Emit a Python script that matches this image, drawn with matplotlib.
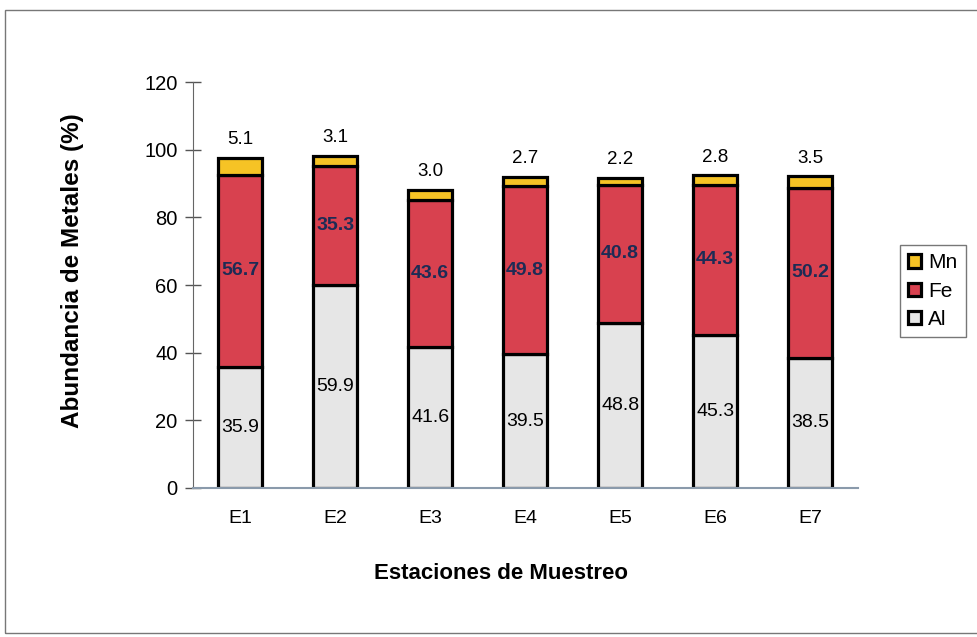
import matplotlib
matplotlib.use("Agg")
import matplotlib.pyplot as plt
from matplotlib.patches import Rectangle
import numpy as np

plt.rcParams['font.family'] = ['Liberation Sans', 'DejaVu Sans']

estaciones = ["E1", "E2", "E3", "E4", "E5", "E6", "E7"]
al = [35.9, 59.9, 41.6, 39.5, 48.8, 45.3, 38.5]
fe = [56.7, 35.3, 43.6, 49.8, 40.8, 44.3, 50.2]
mn = [5.1, 3.1, 3.0, 2.7, 2.2, 2.8, 3.5]

c_al = "#e6e6e6"
c_fe = "#d8414f"
c_mn = "#f6c325"

fig = plt.figure(figsize=(9.78, 6.37), dpi=100)
ax = fig.add_axes([0.197, 0.234, 0.68, 0.637])

x = np.arange(len(estaciones))
al = np.array(al)
fe = np.array(fe)
mn = np.array(mn)
w = 0.46
b_al = ax.bar(x, al, w, color=c_al, edgecolor="black", linewidth=2.3, label="Al")
b_fe = ax.bar(x, fe, w, bottom=al, color=c_fe, edgecolor="black", linewidth=2.3, label="Fe")
b_mn = ax.bar(x, mn, w, bottom=al + fe, color=c_mn, edgecolor="black", linewidth=2.3, label="Mn")

# etiquetas de valores
for i in range(len(x)):
    ax.text(x[i], al[i] / 2, f"{al[i]:.1f}", ha="center", va="center", fontsize=14)
    ax.text(x[i], al[i] + fe[i] / 2, f"{fe[i]:.1f}", ha="center", va="center",
            fontsize=14, fontweight="bold", color="#1d2b55")
    ax.text(x[i], al[i] + fe[i] + mn[i] + 2.8, f"{mn[i]:.1f}", ha="center", va="bottom",
            fontsize=13.5)

ax.set_xlim(-0.5, len(x) - 0.5)
ax.set_ylim(0, 120)
ax.set_yticks(np.arange(0, 121, 20))
ax.set_xticks(x)
ax.set_xticklabels(estaciones)
ax.tick_params(axis="y", direction="inout", length=12, width=1, color="#555555",
               labelsize=14.5, pad=5)
ax.tick_params(axis="x", length=0, labelsize=14, pad=16)

for s in ["top", "right"]:
    ax.spines[s].set_visible(False)
ax.spines["left"].set_color("#666666")
ax.spines["bottom"].set_color("#8a9aab")
ax.spines["bottom"].set_linewidth(1.5)

ax.set_ylabel("Abundancia de Metales (%)", fontsize=17.5, fontweight="bold")
ax.yaxis.set_label_coords(-0.163, 0.535)
ax.set_xlabel("Estaciones de Muestreo", fontsize=16, fontweight="bold")
ax.xaxis.set_label_coords(0.463, -0.185)

leg = fig.legend(handles=[b_mn, b_fe, b_al], labels=["Mn", "Fe", "Al"],
                 loc="upper left", bbox_to_anchor=(900 / 978, 1 - 245 / 637),
                 frameon=True, fancybox=False, edgecolor="#555555", fontsize=15,
                 handlelength=0.6, handleheight=0.6, handletextpad=0.35,
                 labelspacing=0.45, borderpad=0.4, borderaxespad=0)
leg.get_frame().set_linewidth(1)

# marco exterior del grafico
fig.patches.append(Rectangle((5 / 978, 4 / 637), 1.0, 623 / 637, transform=fig.transFigure,
                             fill=False, edgecolor="#777777", linewidth=1))

fig.savefig("out.png", dpi=100)
